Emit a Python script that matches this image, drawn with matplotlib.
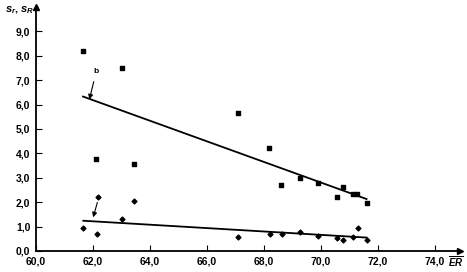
import numpy as np
import matplotlib
matplotlib.use("Agg")
import matplotlib.pyplot as plt

plt.rcParams['font.family'] = ['Liberation Sans', 'DejaVu Sans']
plt.rcParams['mathtext.fontset'] = 'custom'
plt.rcParams['mathtext.it'] = 'Liberation Sans:italic:bold'
plt.rcParams['mathtext.rm'] = 'Liberation Sans:bold'

# s_R values (squares)
sR_x = [61.65, 62.1, 63.02, 63.43, 67.08, 68.19, 68.6, 69.25, 69.88, 70.55, 70.76, 71.11, 71.28, 71.6]
sR_y = [8.2, 3.77, 7.5, 3.57, 5.66, 4.21, 2.69, 2.98, 2.8, 2.2, 2.61, 2.34, 2.34, 1.95]

# s_r values (diamonds)
sr_x = [61.66, 62.13, 62.19, 63.03, 63.45, 67.08, 68.2, 68.62, 69.27, 69.9, 70.56, 70.76, 71.13, 71.29, 71.6]
sr_y = [0.93, 0.68, 2.23, 1.32, 2.06, 0.56, 0.7, 0.7, 0.77, 0.63, 0.53, 0.45, 0.59, 0.94, 0.45]

# regression lines (end points)
line_R_x = [61.65, 71.6]
line_R_y = [6.33, 2.13]
line_r_x = [61.66, 71.6]
line_r_y = [1.24, 0.55]

xticks = [60, 62, 64, 66, 68, 70, 72, 74]
yticks = [0, 1, 2, 3, 4, 5, 6, 7, 8, 9]

fig = plt.figure(figsize=(4.67, 2.72), dpi=100)
ax = fig.add_axes([36/467, 21/272, 424/467, 244/272])

ax.plot(line_R_x, line_R_y, color='black', lw=1.3)
ax.plot(line_r_x, line_r_y, color='black', lw=1.3)
ax.scatter(sR_x, sR_y, marker='s', s=11, color='black', zorder=3)
ax.scatter(sr_x, sr_y, marker='D', s=6, color='black', zorder=3)

# arrows pointing at the lines
ax.annotate('', xy=(61.85, 6.1), xytext=(62.05, 7.05),
            arrowprops=dict(arrowstyle='-|>', color='black', lw=0.8, mutation_scale=7))
ax.text(62.1, 7.2, 'b', fontsize=6, fontweight='bold', ha='center', va='bottom')
ax.annotate('', xy=(61.98, 1.27), xytext=(62.18, 2.1),
            arrowprops=dict(arrowstyle='-|>', color='black', lw=0.8, mutation_scale=7))

ax.set_xlim(60, 74.88)
ax.set_ylim(0, 10)
ax.set_xticks(xticks)
ax.set_yticks(yticks)
ax.set_xticklabels([f"{v:.1f}".replace('.', ',') for v in xticks])
ax.set_yticklabels([f"{v:.1f}".replace('.', ',') for v in yticks])
ax.tick_params(direction='in', length=4, width=0.8, labelsize=7.5, pad=4)
for lab in ax.get_xticklabels() + ax.get_yticklabels():
    lab.set_fontweight('bold')

for side in ['top', 'right']:
    ax.spines[side].set_visible(False)
for side in ['left', 'bottom']:
    ax.spines[side].set_linewidth(1.3)

# axis arrows
ax.plot(1, 0, '>k', transform=ax.transAxes, clip_on=False, ms=5)
ax.plot(0, 1, '^k', transform=ax.transAxes, clip_on=False, ms=5)

fig.text(5/467, 1 - 10/272, r'$s_r$, $s_R$', fontsize=8, fontweight='bold', va='center')
fig.text(456/467, 1 - 262/272, r'$\overline{ER}$', fontsize=7, ha='center', va='center')

fig.savefig('out.png', dpi=100)
